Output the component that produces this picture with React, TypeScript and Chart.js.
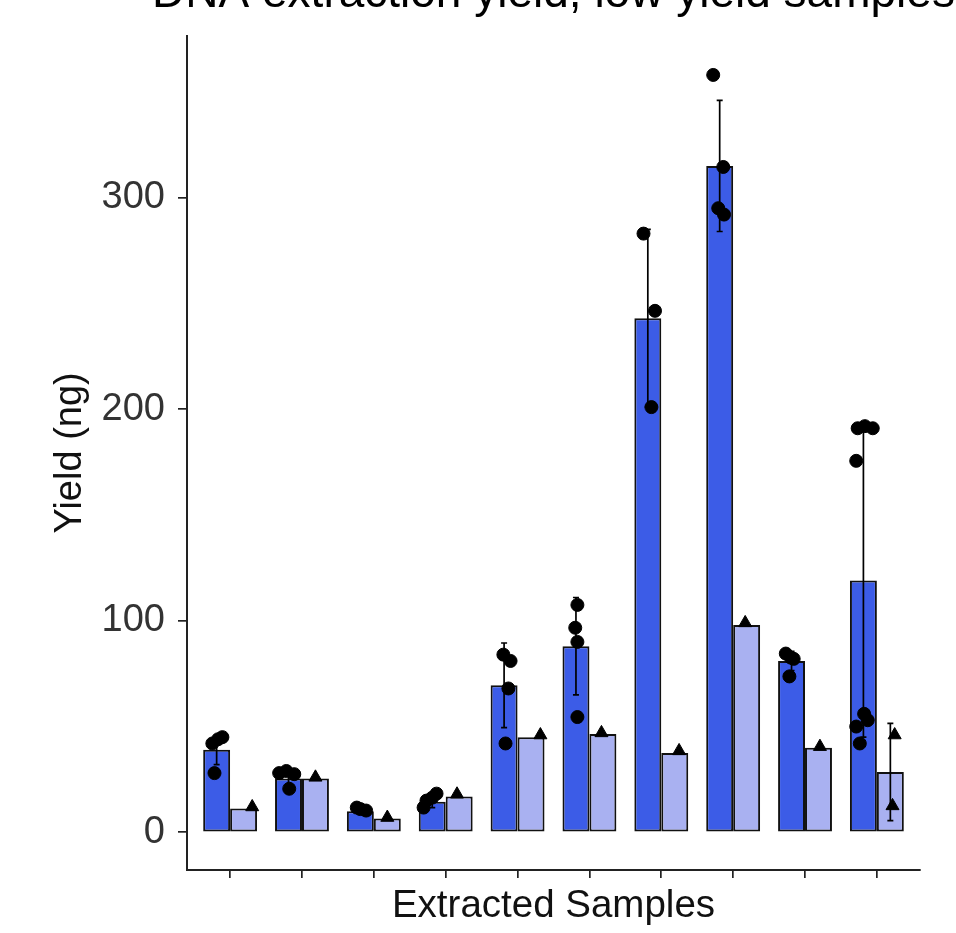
import { useEffect, useRef } from 'react';
import { Chart, registerables } from 'chart.js';

Chart.register(...registerables);

const TITLE = 'DNA extraction yield, low yield samples';
const X_TITLE = 'Extracted Samples';
const Y_TITLE = 'Yield (ng)';

const CATEGORIES = ['S1', 'S2', 'S3', 'S4', 'S5', 'S6', 'S7', 'S8', 'S9', 'S10'];
const Y_TICKS = [0, 100, 200, 300];

// Dark series (bar = mean, error = sd)
const DARK_MEANS = [39, 25.5, 10, 14.5, 69.5, 88, 243, 315, 81, 119];
const DARK_SD = [7, 3.5, 0.8, 2.8, 20, 23, 42, 31, 4.5, 74];
// Light series
const LIGHT_MEANS = [11.3, 25.5, 6.5, 17, 45, 46.5, 37.5, 98, 40, 28.5];
const LIGHT_SD = [0, 0, 0, 0, 0, 0, 0, 0, 0, 23];

// Individual replicate values
const DARK_POINTS = [
  [42, 44, 45, 28],
  [28, 29, 27.5, 20.6],
  [11.7, 10.3, 11],
  [11.7, 15, 16.4, 18.3],
  [68, 42, 84, 81],
  [107.5, 96.7, 90, 54.5],
  [283, 246.5, 201],
  [358, 314.5, 295, 292],
  [84.5, 82.6, 82, 73.7],
  [191, 192, 191, 175.6, 56, 53, 50, 42],
];
// horizontal jitter of each replicate, in category units
const DARK_JITTER = [
  [-0.06, 0.02, 0.08, -0.03],
  [-0.13, -0.03, 0.08, 0.01],
  [-0.05, 0.08, 0.0],
  [-0.12, -0.08, 0.0, 0.06],
  [0.06, 0.02, -0.01, 0.09],
  [0.02, -0.01, 0.02, 0.02],
  [-0.06, 0.1, 0.05],
  [-0.09, 0.05, -0.02, 0.06],
  [-0.08, -0.01, 0.03, -0.03],
  [-0.08, 0.02, 0.13, -0.1, 0.01, 0.06, -0.1, -0.05],
];
const LIGHT_POINTS = [[12], [26], [7], [18], [46], [47], [38.5], [99], [40.5], [46, 12.5]];
const LIGHT_JITTER = [[0.12], [0], [0], [-0.03], [0.13], [-0.02], [0.06], [-0.02], [0.02], [0.06, 0.03]];

const FONT = '"Liberation Sans", Arial, Helvetica, sans-serif';
const DARK_COLOR = '#3C5CE7';
const LIGHT_COLOR = '#A9B1F1';
const DODGE = 0.1875;

const errorBarPlugin = {
  id: 'errorBars',
  afterDatasetDraw(chart: any, args: any) {
    const ds = chart.data.datasets[args.index];
    if (!ds.sd) return;
    const ys = chart.scales.y;
    const ctx = chart.ctx;
    ctx.save();
    ctx.strokeStyle = '#000';
    ctx.lineWidth = 1.7;
    args.meta.data.forEach((el: any, i: number) => {
      const sd = ds.sd[i];
      if (!sd) return;
      const m = ds.data[i].y;
      const x = el.x;
      const top = ys.getPixelForValue(m + sd);
      const bot = ys.getPixelForValue(m - sd);
      ctx.beginPath();
      ctx.moveTo(x, top);
      ctx.lineTo(x, bot);
      ctx.moveTo(x - 3, top);
      ctx.lineTo(x + 3, top);
      ctx.moveTo(x - 3, bot);
      ctx.lineTo(x + 3, bot);
      ctx.stroke();
    });
    ctx.restore();
  },
};

const titlePlugin = {
  id: 'cutTitle',
  afterDraw(chart: any) {
    const { ctx, chartArea } = chart;
    ctx.save();
    ctx.font = `46px ${FONT}`;
    ctx.fillStyle = '#000';
    ctx.textAlign = 'center';
    ctx.textBaseline = 'alphabetic';
    ctx.fillText(TITLE, (chartArea.left + chartArea.right) / 2, 7);
    ctx.restore();
  },
};

export default function App() {
  const ref = useRef<HTMLCanvasElement>(null);

  useEffect(() => {
    if (!ref.current) return;
    const darkPts = DARK_POINTS.flatMap((vals, i) =>
      vals.map((v, j) => ({ x: i + 1 - DODGE + DARK_JITTER[i][j], y: v }))
    );
    const lightPts = LIGHT_POINTS.flatMap((vals, i) =>
      vals.map((v, j) => ({ x: i + 1 + DODGE + LIGHT_JITTER[i][j], y: v }))
    );
    const grid = {
      drawOnChartArea: false,
      drawTicks: true,
      offset: false,
      color: '#222',
      lineWidth: 1.7,
    };
    const chart = new Chart(ref.current, {
      type: 'bar',
      data: {
        datasets: [
          {
            type: 'scatter',
            label: 'dark replicates',
            data: darkPts,
            pointStyle: 'circle',
            pointRadius: 6.5,
            backgroundColor: '#000',
            borderColor: '#000',
            order: 0,
          } as any,
          {
            type: 'scatter',
            label: 'light replicates',
            data: lightPts,
            pointStyle: 'triangle',
            pointRadius: 7.5,
            backgroundColor: '#000',
            borderColor: '#000',
            order: 0,
          } as any,
          {
            type: 'bar',
            label: 'dark',
            data: DARK_MEANS.map((v, i) => ({ x: i + 1, y: v })),
            backgroundColor: DARK_COLOR,
            borderColor: '#111',
            borderWidth: 2,
            borderSkipped: false,
            categoryPercentage: 0.75,
            barPercentage: 1,
            order: 1,
            sd: DARK_SD,
          } as any,
          {
            type: 'bar',
            label: 'light',
            data: LIGHT_MEANS.map((v, i) => ({ x: i + 1, y: v })),
            backgroundColor: LIGHT_COLOR,
            borderColor: '#111',
            borderWidth: 2,
            borderSkipped: false,
            categoryPercentage: 0.75,
            barPercentage: 1,
            order: 1,
            sd: LIGHT_SD,
          } as any,
        ],
      },
      options: {
        responsive: false,
        animation: false,
        devicePixelRatio: 1,
        layout: { padding: { left: 0, top: 30, right: 36, bottom: 0 } },
        plugins: {
          legend: { display: false },
          tooltip: { enabled: false },
          title: { display: false },
        },
        scales: {
          x: {
            type: 'linear',
            min: 0.4,
            max: 10.6,
            offset: false,
            afterBuildTicks: (s: any) => {
              s.ticks = CATEGORIES.map((_, i) => ({ value: i + 1 }));
            },
            afterFit: (s: any) => {
              s.height = 63;
            },
            ticks: { callback: () => '', padding: 0, autoSkip: false, maxRotation: 0 },
            grid: { ...grid, tickLength: 8 },
            border: { display: true, color: '#222', width: 2 },
            title: {
              display: true,
              text: X_TITLE,
              color: '#111',
              font: { family: FONT, size: 38.5 },
              padding: { top: 0, bottom: 4 },
            },
          },
          y: {
            type: 'linear',
            min: -17.8,
            max: 376.5,
            afterBuildTicks: (s: any) => {
              s.ticks = Y_TICKS.map((v) => ({ value: v }));
            },
            afterFit: (s: any) => {
              s.width = 187;
            },
            ticks: {
              color: '#333',
              font: { family: FONT, size: 38 },
              padding: 13,
            },
            grid: { ...grid, tickLength: 9 },
            border: { display: true, color: '#222', width: 2 },
            title: {
              display: true,
              text: Y_TITLE,
              color: '#111',
              font: { family: FONT, size: 38 },
              padding: { top: 48, bottom: 0 },
            },
          },
        },
      } as any,
      plugins: [errorBarPlugin, titlePlugin],
    });
    return () => chart.destroy();
  }, []);

  return (
    <div style={{ position: 'absolute', left: 0, top: 0, width: 956, height: 933 }}>
      <canvas ref={ref} width={956} height={933} style={{ display: 'block' }} />
    </div>
  );
}
